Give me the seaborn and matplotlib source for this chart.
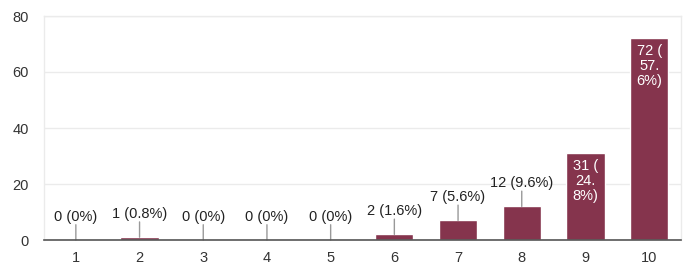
import matplotlib
matplotlib.use("Agg")
import matplotlib.pyplot as plt
import seaborn as sns
import pandas as pd

categories = ["1", "2", "3", "4", "5", "6", "7", "8", "9", "10"]
counts = [0, 1, 0, 0, 0, 2, 7, 12, 31, 72]
labels = ["0 (0%)", "1 (0.8%)", "0 (0%)", "0 (0%)", "0 (0%)", "2 (1.6%)",
          "7 (5.6%)", "12 (9.6%)", "31 (\n24.\n8%)", "72 (\n57.\n6%)"]
inside = [False] * 8 + [True, True]
yticks = [0, 20, 40, 60, 80]

BAR = "#85344D"

sns.set_theme(style="white")
plt.rcParams["font.family"] = ["Liberation Sans", "DejaVu Sans"]

fig = plt.figure(figsize=(6.85, 2.73), dpi=100)
ax = fig.add_axes([44 / 685, 33 / 273, 637 / 685, 224 / 273])

df = pd.DataFrame({"cat": categories, "n": counts})
sns.barplot(data=df, x="cat", y="n", color=BAR, saturation=1, width=0.6, ax=ax, zorder=3)

ax.set_xlim(-0.5, 9.5)
ax.set_ylim(0, 80)
ax.set_yticks(yticks)
ax.set_xlabel("")
ax.set_ylabel("")
ax.grid(axis="y", color="#ebebeb", linewidth=1, zorder=0)
ax.grid(axis="x", visible=False)
for s in ["left", "right", "top"]:
    ax.spines[s].set_color("#ebebeb")
    ax.spines[s].set_linewidth(1)
ax.spines["bottom"].set_color("#555555")
ax.spines["bottom"].set_linewidth(1.2)
ax.spines["bottom"].set_zorder(5)
ax.tick_params(axis="both", length=0, labelsize=10.5, colors="#333333")
ax.tick_params(axis="y", pad=11)
ax.tick_params(axis="x", pad=8)

for i, (v, lab, ins) in enumerate(zip(counts, labels, inside)):
    if ins:
        ax.annotate(lab, (i, v), xytext=(0, -4), textcoords="offset points",
                    ha="center", va="top", color="white", fontsize=10.5,
                    linespacing=1.1, zorder=6)
    else:
        ax.annotate("", (i, v), xytext=(0, 11), textcoords="offset points",
                    arrowprops=dict(arrowstyle="-", color="#999999", lw=1,
                                    shrinkA=0, shrinkB=0), zorder=4)
        ax.annotate(lab, (i, v), xytext=(0, 16.5), textcoords="offset points",
                    ha="center", va="center", color="#222222", fontsize=10.5,
                    zorder=6)

fig.savefig("out.png", dpi=100)
